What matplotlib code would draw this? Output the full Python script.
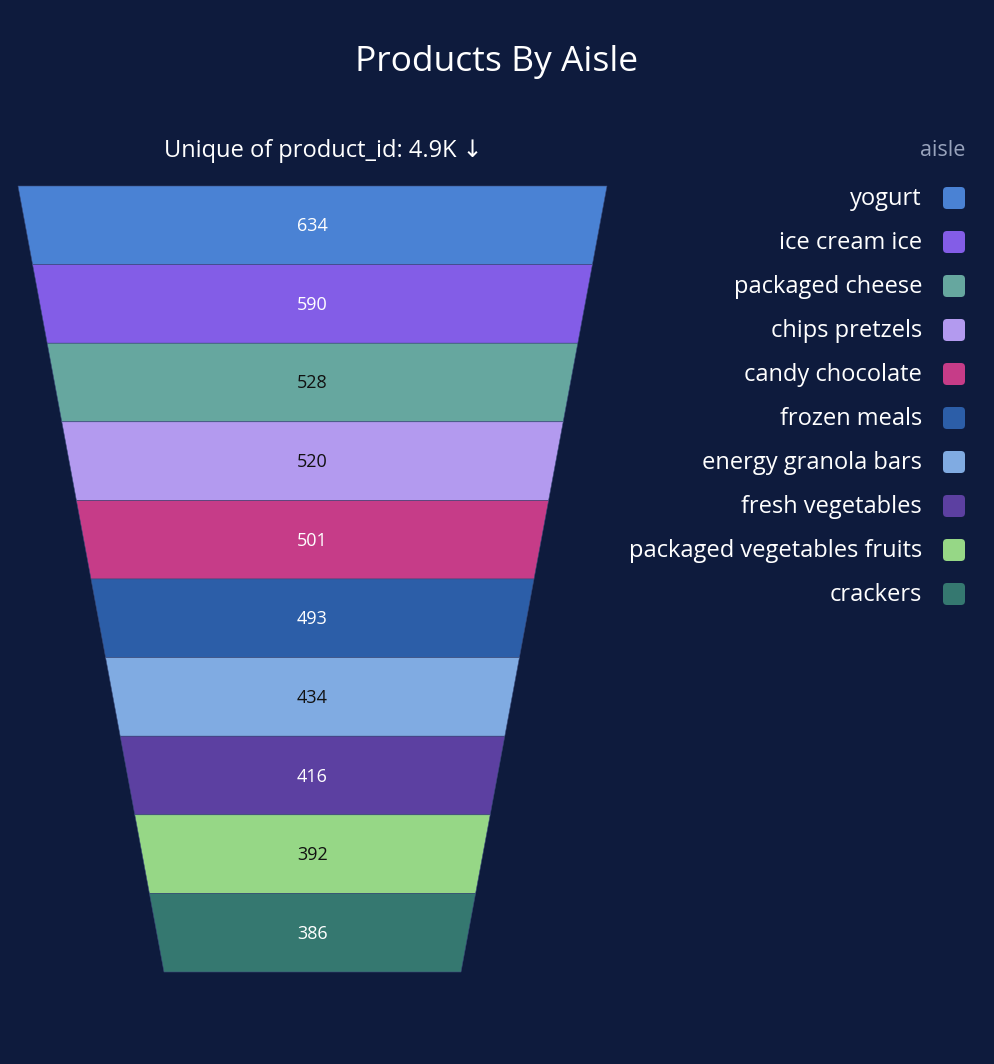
import matplotlib
matplotlib.use("Agg")
import matplotlib.pyplot as plt
from matplotlib.patches import Polygon, FancyBboxPatch

plt.rcParams['font.family'] = ['Open Sans', 'DejaVu Sans']

aisles = ["yogurt", "ice cream ice", "packaged cheese", "chips pretzels",
          "candy chocolate", "frozen meals", "energy granola bars",
          "fresh vegetables", "packaged vegetables fruits", "crackers"]
counts = [634, 590, 528, 520, 501, 493, 434, 416, 392, 386]
colors = ["#4A82D4", "#835DE7", "#66A79F", "#B39AEF", "#C63C88",
          "#2C5EA8", "#80ABE2", "#5C40A1", "#96D786", "#357870"]
label_dark = [False, False, True, True, False, False, True, False, True, False]

bg = "#0E1B3D"
W, H = 994, 1064

fig = plt.figure(figsize=(W / 100, H / 100), dpi=100, facecolor=bg)
ax = fig.add_axes([0, 0, 1, 1])
ax.set_xlim(0, W)
ax.set_ylim(H, 0)
ax.axis("off")
ax.set_facecolor(bg)

ax.text(W / 2, 62, "Products By Aisle", ha="center", va="center",
        color="white", fontsize=25.5)

# funnel layout
top_y, bot_y = 186, 972
cx = 312.5
top_w, bot_w = 589, 297
n = len(counts)
seg_h = (bot_y - top_y) / n

def half_width(y):
    t = (y - top_y) / (bot_y - top_y)
    return (top_w + (bot_w - top_w) * t) / 2

for i, (v, c) in enumerate(zip(counts, colors)):
    y0 = top_y + i * seg_h
    y1 = y0 + seg_h
    w0, w1 = half_width(y0), half_width(y1)
    poly = Polygon([(cx - w0, y0), (cx + w0, y0), (cx + w1, y1), (cx - w1, y1)],
                   closed=True, facecolor=c, edgecolor="#3A4A7A", linewidth=0.4)
    ax.add_patch(poly)
    ax.text(cx, (y0 + y1) / 2 + 1, str(v), ha="center", va="center", fontsize=13,
            color="#111111" if label_dark[i] else "white")

total = sum(counts)
ax.text(323, 151, f"Unique of product_id: {total / 1000:.1f}K \u2193",
        ha="center", va="center", color="white", fontsize=17)

# legend
ax.text(965, 150, "aisle", ha="right", va="center", color="#98A3BC", fontsize=15.5)
for i, (name, c) in enumerate(zip(aisles, colors)):
    y = 198 + i * 44
    ax.text(922, y + 1, name, ha="right", va="center", color="white", fontsize=17)
    box = FancyBboxPatch((943, y - 11), 22, 22,
                         boxstyle="round,pad=0,rounding_size=4",
                         facecolor=c, edgecolor="none")
    ax.add_patch(box)

fig.savefig("out.png", dpi=100, facecolor=bg)
